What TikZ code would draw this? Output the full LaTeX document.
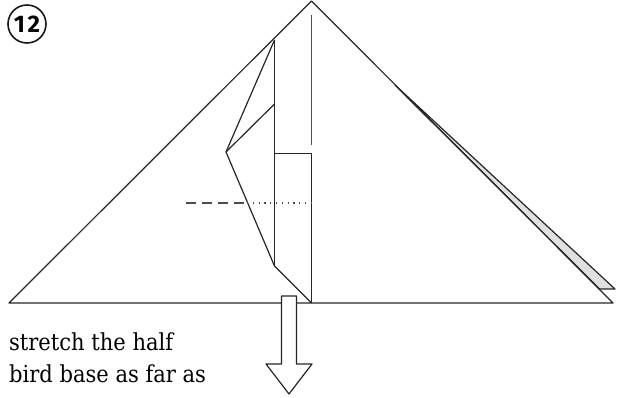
\documentclass[tikz,border=0pt]{standalone}
\usepackage{fontspec}
\setmainfont{DejaVu Serif Condensed}
\newfontfamily\numfont{Fira Sans}
\tikzset{
  fold/.style={draw=black!85,line width=1.2pt,line join=round},
  thin fold/.style={draw=black!70,line width=1.2pt},
  caption/.style={anchor=base west,inner sep=0pt,font=\fontsize{23.4}{23.4}\selectfont,text=black},
}
\begin{document}
\begin{tikzpicture}[x=1pt,y=-1pt]
\useasboundingbox (0,0) rectangle (624,398);
% gray back flap
\draw[fold,fill=black!12] (395,85) -- (615,289) -- (599.5,289) -- cycle;
% main triangle
\draw[fold] (9,303) -- (311.5,1) -- (613,303) -- cycle;
% inner flap
\draw[fold] (274.5,40) -- (226,152) -- (274.5,266) -- (311.5,303);
\draw[fold] (226,152) -- (274.5,104);
\draw[fold] (274.5,40) -- (274.5,266);
\draw[fold] (274.5,153.5) -- (311.5,153.5) -- (311.5,303);
\draw[thin fold] (311.5,15) -- (311.5,145);
% fold lines
\draw[thin fold,dash pattern=on 10pt off 6pt] (186,203) -- (245,203);
\draw[thin fold,dash pattern=on 1.2pt off 4.6pt] (247,203) -- (311.5,203);
% arrow
\draw[fold,fill=white] (281.5,296) -- (296.5,296) -- (296.5,364) -- (312,364) -- (289,394) -- (266,364) -- (281.5,364) -- cycle;
% step number
\node[circle,draw=black!90,line width=1.6pt,minimum size=38pt,inner sep=0pt,font=\numfont\bfseries\fontsize{24}{24}\selectfont] (num) at (27,24) {1\kern2.5pt 2};
% caption
\node[caption] (line1) at (9,350) {stretch the half};
\node[caption] (line2) at (9,382) {bird base as far as};
\end{tikzpicture}
\end{document}
